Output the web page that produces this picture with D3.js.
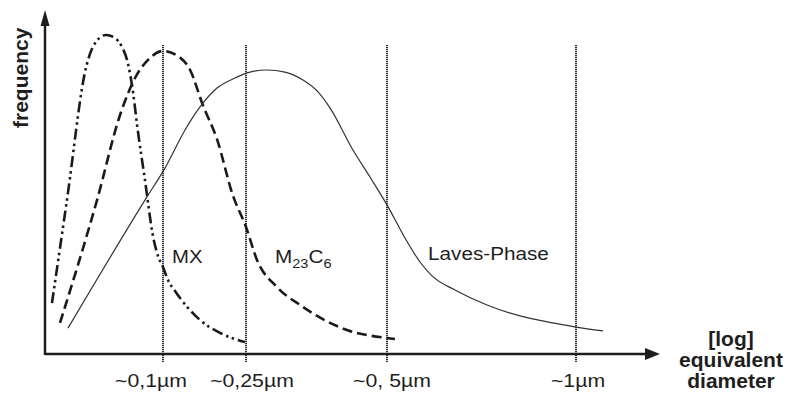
<!DOCTYPE html>
<html><head><meta charset="utf-8">
<script src="https://cdn.jsdelivr.net/npm/d3@7"></script>
<style>body{margin:0;background:#fff}svg{display:block}</style>
</head><body><svg id="c" width="794" height="394"></svg>
<script>
// ---- data ----
const xStops = [0, 0.1, 0.25, 0.5, 1, 1.2];           // µm, schematic (piecewise) log axis
const tickValues = [0.1, 0.25, 0.5, 1];
const tickLabels = ["~0,1µm", "~0,25µm", "~0, 5µm", "~1µm"];
const mxX = [0.0059, 0.0186, 0.0347, 0.0415, 0.0517, 0.0593, 0.0653, 0.0695, 0.0737, 0.0788, 0.0847, 0.0915, 0.0958, 0.1, 0.109, 0.1217, 0.1669, 0.203, 0.248];
const mxY = [0.159, 0.481, 0.894, 0.966, 0.997, 0.9875, 0.959, 0.919, 0.841, 0.694, 0.544, 0.369, 0.306, 0.272, 0.231, 0.197, 0.106, 0.066, 0.0375];
const mcX = [0.0127, 0.0441, 0.0636, 0.0763, 0.0873, 0.1, 0.127, 0.149, 0.172, 0.198, 0.226, 0.25, 0.2695, 0.305, 0.346, 0.429, 0.5, 0.521];
const mcY = [0.097, 0.481, 0.747, 0.8625, 0.919, 0.947, 0.931, 0.8875, 0.778, 0.669, 0.497, 0.397, 0.294, 0.209, 0.153, 0.075, 0.05, 0.047];
const lvX = [0.0195, 0.0864, 0.1036, 0.1398, 0.1669, 0.1976, 0.2301, 0.2571, 0.2872, 0.3191, 0.3511, 0.3777, 0.3989, 0.4397, 0.4699, 0.5, 0.5476, 0.5873, 0.619, 0.6799, 0.7646, 0.8519, 0.9392, 1.0, 1.0643];
const lvY = [0.081, 0.491, 0.581, 0.7, 0.772, 0.831, 0.8625, 0.881, 0.8875, 0.881, 0.856, 0.819, 0.769, 0.6375, 0.553, 0.466, 0.3625, 0.2875, 0.244, 0.2, 0.153, 0.119, 0.097, 0.084, 0.072];
const yLabel = "frequency";
const xLabelLines = ["[log]", "equivalent", "diameter"];

// ---- layout ----
const svg = d3.select("#c");
const x = d3.scaleLinear().domain(xStops).range([45, 163, 246, 387, 576, 660]);
const y = d3.scaleLinear().domain([0, 1]).range([354, 34]);
const ink = "#1e1e1e";
const font = "'Liberation Sans', Arial, Helvetica, sans-serif";

// vertical dotted reference lines
svg.append("g").selectAll("line").data(tickValues).join("line")
  .attr("x1", d => x(d)).attr("x2", d => x(d))
  .attr("y1", 45).attr("y2", 362)
  .attr("stroke", "#333").attr("stroke-width", 2).attr("stroke-dasharray", "1.2,0.8");

// axes
svg.append("line").attr("x1", x(0)).attr("x2", 648).attr("y1", y(0)).attr("y2", y(0))
  .attr("stroke", ink).attr("stroke-width", 2.5);
svg.append("path").attr("d", `M${660},${y(0)} L${645},${y(0)-6} L${645},${y(0)+6} Z`).attr("fill", ink);
svg.append("line").attr("x1", x(0)).attr("x2", x(0)).attr("y1", y(0)+1).attr("y2", 22)
  .attr("stroke", ink).attr("stroke-width", 2.5);
svg.append("path").attr("d", `M${x(0)},10 L${x(0)-4.5},26 L${x(0)+4.5},26 Z`).attr("fill", ink);

// curves
const line = d3.line().x(d => x(d[0])).y(d => y(d[1])).curve(d3.curveMonotoneX);
const series = [
  {xs: mxX, ys: mxY, w: 2.6, dash: "11,4,2.5,3.5,2.5,4", c: "#1a1a1a"},
  {xs: mcX, ys: mcY, w: 2.6, dash: "10,5", c: "#1a1a1a"},
  {xs: lvX, ys: lvY, w: 1.2, dash: null, c: "#333"}
];
series.forEach(s => {
  svg.append("path").datum(d3.zip(s.xs, s.ys)).attr("d", line)
    .attr("fill", "none").attr("stroke", s.c).attr("stroke-width", s.w)
    .attr("stroke-dasharray", s.dash);
});

// tick labels
const tickDx = [-12, 6, 5, 2];
svg.append("g").selectAll("text").data(tickValues).join("text")
  .attr("transform", (d, i) => `translate(${x(d) + tickDx[i]},387) scale(1.15,1)`)
  .attr("text-anchor", "middle").attr("font-family", font).attr("font-size", 18.5)
  .attr("fill", ink).text((d, i) => tickLabels[i]);

// phase labels
function lab(px, py, sx) {
  return svg.append("text").attr("transform", `translate(${px},${py}) scale(${sx},1)`)
    .attr("font-family", font).attr("font-size", 18.5).attr("fill", ink);
}
lab(172, 263, 1.1).text("MX");
const m = lab(275, 263, 1.12);
m.append("tspan").text("M");
m.append("tspan").attr("font-size", 13).attr("dy", 5).text("23");
m.append("tspan").attr("dy", -5).text("C");
m.append("tspan").attr("font-size", 13).attr("dy", 5).text("6");
lab(428, 260, 1.12).text("Laves-Phase");

// axis titles
svg.append("text").attr("transform", "translate(28,128) rotate(-90)")
  .attr("font-family", font).attr("font-weight", "bold").attr("font-size", 21)
  .attr("fill", ink).text(yLabel);
svg.append("g").selectAll("text").data(xLabelLines).join("text")
  .attr("transform", (d, i) => `translate(731,${346 + i * 21}) scale(1.05,1)`)
  .attr("text-anchor", "middle").attr("font-family", font).attr("font-weight", "bold")
  .attr("font-size", 20).attr("fill", ink).text(d => d);
</script>
</body></html>
